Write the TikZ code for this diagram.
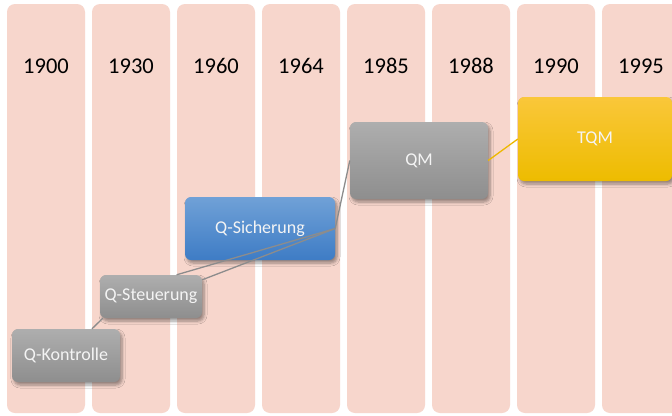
\documentclass[tikz,border=0pt]{standalone}
\usepackage{fontspec}
\setmainfont{Carlito}
\usetikzlibrary{shadows.blur,calc}

\definecolor{colfill}{HTML}{F7D6CC}
\definecolor{grayTop}{HTML}{AEAEAE}
\definecolor{grayBot}{HTML}{8E8E8E}
\definecolor{blueTop}{HTML}{70A1D7}
\definecolor{blueBot}{HTML}{3E7CC5}
\definecolor{yelTop}{HTML}{FAC73A}
\definecolor{yelBot}{HTML}{EDBC00}
\definecolor{linkGray}{HTML}{8C8C8C}
\definecolor{linkYel}{HTML}{EDB800}
\definecolor{boxText}{HTML}{F4F4F4}

\tikzset{
  yearcol/.style={fill=colfill, draw=none, rounded corners=8pt},
  yearlabel/.style={font=\fontsize{22.5}{26}\selectfont, text=black},
  stage/.style={draw=none, rounded corners=6pt, inner sep=0pt,
    font=\fontsize{18}{21}\selectfont, text=boxText,
    blur shadow={shadow xshift=2pt, shadow yshift=-3pt, shadow blur steps=6,
                 shadow opacity=40, shadow blur radius=3pt}},
  graystage/.style={stage, top color=grayTop, bottom color=grayBot},
  bluestage/.style={stage, top color=blueTop, bottom color=blueBot},
  yelstage/.style={stage, top color=yelTop, bottom color=yelBot},
  link/.style={draw=linkGray, line width=1.3pt},
  yellink/.style={draw=linkYel, line width=1.3pt},
}

\begin{document}
\begin{tikzpicture}[x=1pt, y=-1pt]
  \useasboundingbox (0,0) rectangle (672,415);
  \clip (0,0) rectangle (672,415);
  \fill[white] (0,0) rectangle (672,415);

  % year columns with their labels
  \foreach \yr [count=\i from 0] in {1900,1930,1960,1964,1985,1988,1990,1995} {
    \fill[yearcol] (7+85*\i, 4) rectangle (85+85*\i, 413);
    \node[yearlabel] (y\yr) at (46+85*\i, 66) {\yr};
  }

  % stages
  \node[graystage, minimum width=108pt, minimum height=53pt] (kon) at (66,355.5) {Q-Kontrolle};
  \node[graystage, minimum width=102pt, minimum height=43pt] (ste) at (151,296.5) {Q-Steuerung};
  \node[bluestage, minimum width=150pt, minimum height=63pt] (sic) at (260,228.5) {Q-Sicherung};
  \node[graystage, minimum width=138pt, minimum height=77pt] (qm) at (419,160.5) {QM};
  \node[yelstage, minimum width=154pt, minimum height=84pt] (tqm) at (595,139) {TQM};

  % links between stages
  \coordinate (steA) at ($(ste.north west)!0.75!(ste.north east)$);
  \coordinate (steB) at ($(ste.north east)+(0,5)$);
  \draw[link] ($(kon.north)+(26,0)$) -- ($(ste.south west)+(3,0)$);
  \draw[link] (steA) -- (sic.east);
  \draw[link] (steB) -- (sic.east);
  \draw[link] (sic.east) -- (qm.west);
  \draw[yellink] (qm.east) -- (tqm.west);
\end{tikzpicture}
\end{document}
